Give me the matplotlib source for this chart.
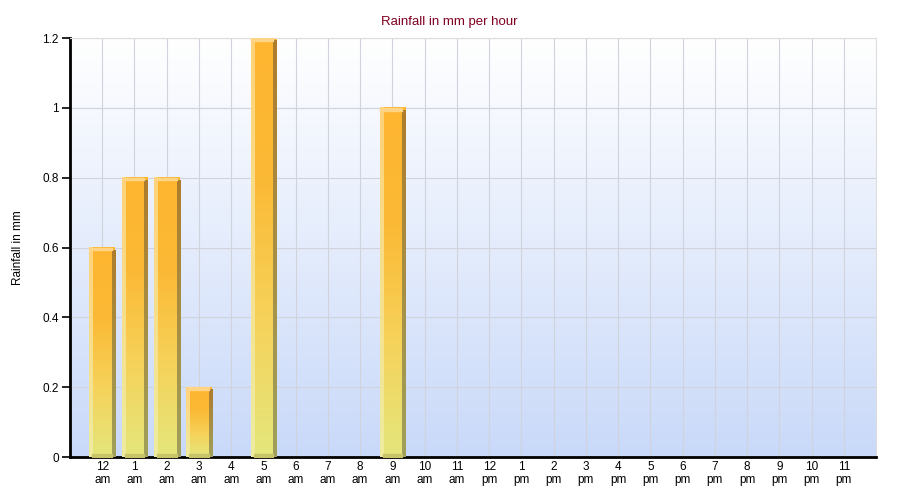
import numpy as np
import matplotlib.pyplot as plt
from matplotlib.colors import LinearSegmentedColormap

hours = ["12\nam", "1\nam", "2\nam", "3\nam", "4\nam", "5\nam", "6\nam", "7\nam",
         "8\nam", "9\nam", "10\nam", "11\nam", "12\npm", "1\npm", "2\npm", "3\npm",
         "4\npm", "5\npm", "6\npm", "7\npm", "8\npm", "9\npm", "10\npm", "11\npm"]
rain = [0.6, 0.8, 0.8, 0.2, 0, 1.2, 0, 0, 0, 1.0, 0, 0,
        0, 0, 0, 0, 0, 0, 0, 0, 0, 0, 0, 0]
yticks = [0, 0.2, 0.4, 0.6, 0.8, 1.0, 1.2]
ylabels = ["0", "0.2", "0.4", "0.6", "0.8", "1", "1.2"]

plt.rcParams['font.family'] = ['Liberation Sans', 'DejaVu Sans']

fig = plt.figure(figsize=(9, 5), dpi=100)
ax = fig.add_axes([70 / 900, 43 / 500, 806 / 900, 419 / 500])

# background gradient (white at top to light blue at bottom)
bg = LinearSegmentedColormap.from_list("bg", ["#c9d9f9", "#ffffff"])
grad = np.linspace(0, 1, 256).reshape(-1, 1)
ax.imshow(grad, cmap=bg, origin="lower", aspect="auto",
          extent=(0, 1, 0, 1), transform=ax.transAxes, zorder=0)

x = np.arange(len(hours))
bars = ax.bar(x, rain, width=0.8, color="none", zorder=2)

bar_cmap = LinearSegmentedColormap.from_list(
    "bar", ["#e4e67c", "#f6d25a", "#fbb935", "#ffb530"])
side_cmap = LinearSegmentedColormap.from_list("side", ["#a0a05a", "#ae7d2c"])
hl_cmap = LinearSegmentedColormap.from_list("hl", ["#eeeca0", "#ffd27a"])
for b in bars:
    h = b.get_height()
    if h <= 0:
        continue
    x0, w = b.get_x(), b.get_width()
    ax.imshow(grad, cmap=bar_cmap, origin="lower", aspect="auto",
              extent=(x0, x0 + w, 0, h), zorder=2)
    # left highlight
    ax.imshow(grad, cmap=hl_cmap, origin="lower", aspect="auto",
              extent=(x0, x0 + w * 0.12, 0, h), zorder=3)
    # right shadow
    ax.imshow(grad, cmap=side_cmap, origin="lower", aspect="auto",
              extent=(x0 + w * 0.88, x0 + w, 0, h - 0.008), zorder=3)
    # top highlight
    ax.fill_between([x0, x0 + w * 0.88], h - 0.008, h, color="#ffd585", zorder=3)
    # bottom shade
    ax.fill_between([x0 + w * 0.12, x0 + w * 0.88], 0, 0.008, color="#c8c46a", zorder=3)

ax.set_xlim(-1, 24)
ax.set_ylim(0, 1.2)
ax.set_xticks(x)
ax.set_xticklabels(hours, fontsize=8.5, linespacing=1.1)
ax.set_yticks(yticks)
ax.set_yticklabels(ylabels, fontsize=8.5)
ax.tick_params(axis="x", length=0, pad=3)
ax.tick_params(axis="y", length=6, width=1.2, direction="out", pad=2)

ax.grid(True, color="#d0d3dc", linewidth=0.8)
ax.set_axisbelow(True)
for gl in ax.get_xgridlines() + ax.get_ygridlines():
    gl.set_zorder(1)

ax.spines["left"].set_linewidth(2)
ax.spines["bottom"].set_linewidth(2)
ax.spines["top"].set_color("#dddddd")
ax.spines["right"].set_color("#dddddd")

fig.text(449 / 900, 1 - 22 / 500, "Rainfall in mm per hour", fontsize=9.5,
         color="#800020", ha="center", va="center")
fig.text(18 / 900, 1 - 248 / 500, "Rainfall in mm", fontsize=8.5,
         rotation=90, ha="center", va="center")

fig.savefig("out.png", dpi=100)
